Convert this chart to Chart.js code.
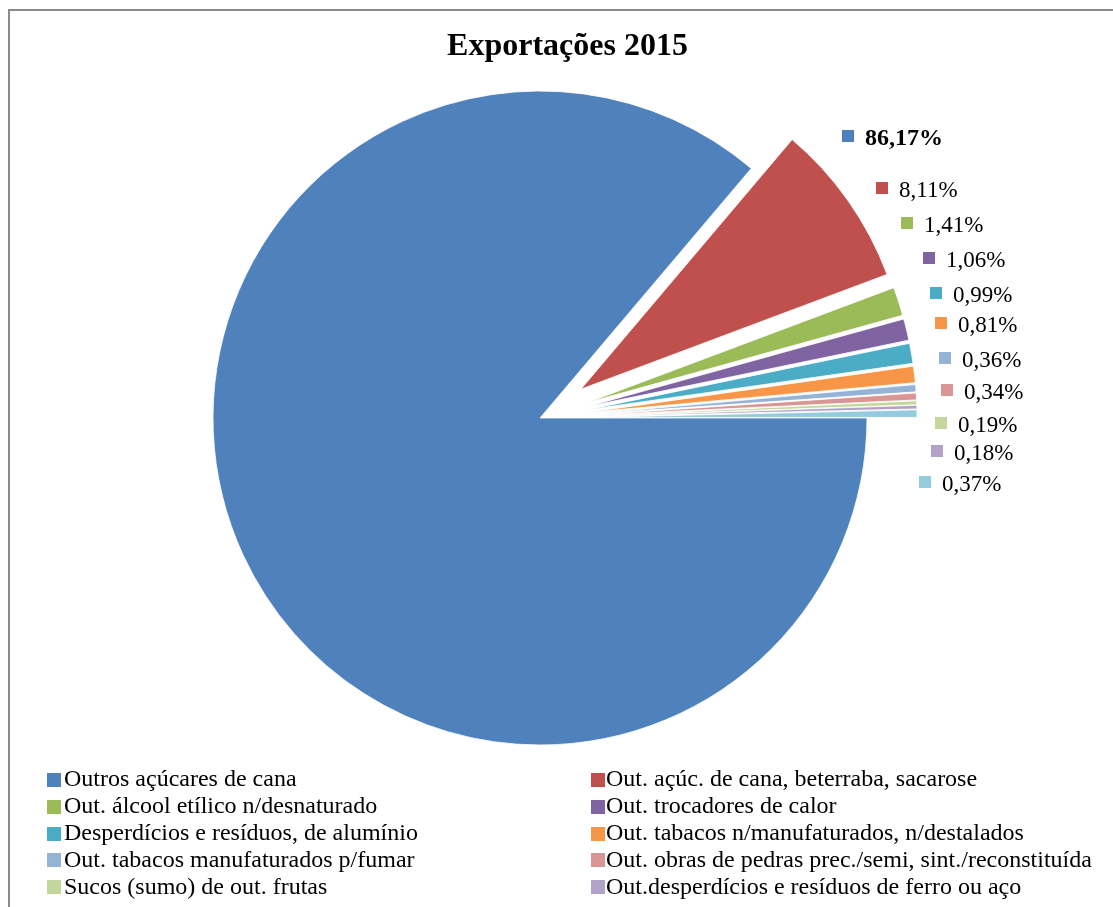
<!DOCTYPE html>
<html>
<head>
<meta charset="utf-8">
<script src="https://cdn.jsdelivr.net/npm/chart.js@4/dist/chart.umd.min.js"></script>
<style>
  html, body { margin:0; padding:0; width:1113px; height:907px; overflow:hidden; background:#fff; }
  #frame { position:absolute; left:8px; top:9px; width:1200px; height:1000px;
           border-left:2px solid #8a8a8a; border-top:2px solid #8a8a8a; }
  #c { position:absolute; left:0; top:0; }
  #title { position:absolute; left:0; top:28px; width:1135px; text-align:center;
           font-family:"Liberation Serif", "Times New Roman", serif; font-weight:bold;
           font-size:32px; line-height:32px; color:#000; }
  #legend { position:absolute; left:0; top:0; width:1113px; height:899px; overflow:hidden; }
  .leg { position:absolute; font-family:"Liberation Serif", "Times New Roman", serif;
         font-size:24px; line-height:27px; color:#000; white-space:nowrap; }
  .sw { position:absolute; width:14px; height:14px; }
</style>
</head>
<body>
<div id="frame"></div>
<canvas id="c" width="1113" height="907"></canvas>
<div id="title">Exportações 2015</div>
<div id="legend"></div>
<script>
// ---- data ----
const CATEGORIES = [
  "Outros açúcares de cana",
  "Out. açúc. de cana, beterraba, sacarose",
  "Out. álcool etílico n/desnaturado",
  "Out. trocadores de calor",
  "Desperdícios e resíduos, de alumínio",
  "Out. tabacos n/manufaturados, n/destalados",
  "Out. tabacos manufaturados p/fumar",
  "Out. obras de pedras prec./semi, sint./reconstituída",
  "Sucos (sumo) de out. frutas",
  "Out.desperdícios e resíduos de ferro ou aço",
  "Demais produtos"
];
const VALUES = [86.17, 8.11, 1.41, 1.06, 0.99, 0.81, 0.36, 0.34, 0.19, 0.18, 0.37];

// ---- styles / layout ----
const COLORS = ["#4F81BD", "#C0504D", "#9BBB59", "#8064A2", "#4BACC6", "#F79646",
                "#95B3D7", "#D99694", "#C3D69B", "#B3A2C7", "#93CDDD"];
const EXPLODE_PX = 50;           // shift of exploded slices along their bisector
// label square centres relative to pie centre
const LABEL_OFFSETS = [[308,-282],[342,-230],[367,-195],[389,-160],[396,-125],[401,-95],
                       [405,-60],[407,-28],[401,5],[397,33],[385,64]];

function fmt(v){ return v.toFixed(2).replace('.', ',') + '%'; }

// Excel-style explosion: translate each slice (except the first) without changing its radius
const explodePlugin = {
  id: 'explode',
  beforeDatasetDraw(chart, args) {
    const ctx = chart.ctx;
    const meta = args.meta;
    meta.data.forEach((arc, i) => {
      const shift = i === 0 ? 0 : EXPLODE_PX;
      const mid = (arc.startAngle + arc.endAngle) / 2;
      ctx.save();
      ctx.translate(Math.cos(mid) * shift, Math.sin(mid) * shift);
      arc.draw(ctx, chart.chartArea);
      ctx.restore();
    });
    return false;
  }
};

const labelPlugin = {
  id: 'pctLabels',
  afterDatasetsDraw(chart) {
    const ctx = chart.ctx;
    const meta = chart.getDatasetMeta(0);
    const cx = meta.data[0].x, cy = meta.data[0].y;
    ctx.save();
    meta.data.forEach((arc, i) => {
      const [dx, dy] = LABEL_OFFSETS[i];
      const sx = cx + dx, sy = cy + dy;
      ctx.fillStyle = COLORS[i];
      ctx.fillRect(sx - 6, sy - 6, 12, 12);
      ctx.fillStyle = '#000';
      ctx.font = (i === 0 ? 'bold 24px ' : '23px ') + '"Liberation Serif", "Times New Roman", serif';
      ctx.textBaseline = 'alphabetic';
      ctx.textAlign = 'left';
      ctx.fillText(fmt(VALUES[i]), sx + 17, sy + 9);
    });
    ctx.restore();
  }
};

new Chart(document.getElementById('c'), {
  type: 'pie',
  data: {
    labels: CATEGORIES,
    datasets: [{
      data: VALUES,
      backgroundColor: COLORS,
      borderColor: '#ffffff',
      borderWidth: 0.8
    }]
  },
  options: {
    responsive: false,
    animation: false,
    rotation: 90,
    radius: 327,
    layout: { padding: { left: 0, right: 33, top: 0, bottom: 71 } },
    plugins: { legend: { display: false }, title: { display: false }, tooltip: { enabled: false } }
  },
  plugins: [explodePlugin, labelPlugin]
});

// ---- HTML legend ----
const legend = document.getElementById('legend');
CATEGORIES.forEach((name, i) => {
  const col = i % 2, row = Math.floor(i / 2);
  const sq = document.createElement('div');
  sq.className = 'sw';
  sq.style.background = COLORS[i];
  sq.style.left = (col === 0 ? 47 : 591) + 'px';
  sq.style.top = (773 + row * 26.8) + 'px';
  legend.appendChild(sq);
  const t = document.createElement('div');
  t.className = 'leg';
  t.textContent = name;
  t.style.left = (col === 0 ? 64 : 606) + 'px';
  t.style.top = (765.3 + row * 26.8) + 'px';
  legend.appendChild(t);
});
</script>
</body>
</html>
